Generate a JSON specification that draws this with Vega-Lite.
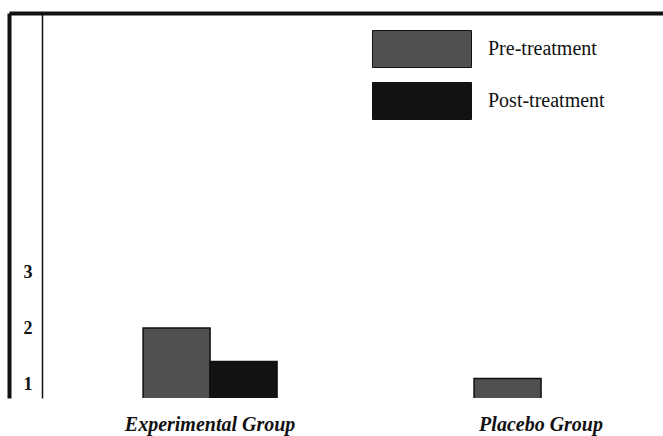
{
  "$schema": "https://vega.github.io/schema/vega-lite/v6.json",
  "width": 654,
  "height": 385,
  "autosize": {"type": "none"},
  "padding": {"left": 9, "top": 13, "right": 0, "bottom": 38},
  "background": "white",
  "config": {
    "view": {"stroke": null},
    "font": "Liberation Serif"
  },
  "data": {
    "values": [
      {"group": "Experimental Group", "phase": "Pre-treatment", "value": 2.0},
      {"group": "Experimental Group", "phase": "Post-treatment", "value": 1.4},
      {"group": "Placebo Group", "phase": "Pre-treatment", "value": 1.1}
    ]
  },
  "layer": [
    {
      "mark": {"type": "bar", "stroke": "#111", "strokeWidth": 1.5, "clip": true},
      "encoding": {
        "x": {
          "field": "group", "type": "nominal",
          "scale": {"paddingInner": 0.3, "paddingOuter": 0.138, "align": 0.933},
          "axis": {
            "orient": "bottom", "title": null, "domain": false, "ticks": false,
            "labelAngle": 0, "labelPadding": 16, "labelFontSize": 20,
            "labelFontWeight": "bold", "labelFontStyle": "italic",
            "labelColor": "#111", "labelFont": "Liberation Serif"
          }
        },
        "xOffset": {
          "field": "phase", "type": "nominal",
          "sort": ["Pre-treatment", "Post-treatment"],
          "scale": {"domain": ["Pre-treatment", "Post-treatment"], "paddingInner": 0, "paddingOuter": 0.729}
        },
        "y": {
          "field": "value", "type": "quantitative",
          "scale": {"domain": [0.75, 7.625], "zero": false, "nice": false},
          "axis": {
            "orient": "left", "title": null, "offset": -33, "grid": false,
            "values": [1, 2, 3], "ticks": false, "domainColor": "#111",
            "domainWidth": 1.5, "labelPadding": 10, "labelFontSize": 18,
            "labelFontWeight": "bold", "labelColor": "#111", "labelFont": "Liberation Serif"
          }
        },
        "color": {
          "field": "phase", "type": "nominal",
          "scale": {"domain": ["Pre-treatment", "Post-treatment"], "range": ["#505050", "#121212"]},
          "legend": {
            "title": null, "orient": "none", "legendX": 363, "legendY": 17,
            "symbolType": "M-1,-1H4.351V1H-1Z", "symbolSize": 1369,
            "symbolStrokeColor": "#111", "symbolStrokeWidth": 1,
            "labelFontSize": 20, "labelFont": "Liberation Serif", "labelColor": "#111",
            "labelOffset": 78, "rowPadding": 10
          }
        }
      }
    },
    {
      "mark": {"type": "bar", "opacity": 0},
      "encoding": {
        "x": {
          "field": "group", "type": "nominal",
          "axis": {"orient": "top", "title": null, "labels": false, "ticks": false, "domainWidth": 4, "domainColor": "#111"}
        },
        "xOffset": {"field": "phase", "type": "nominal"},
        "y": {
          "field": "value", "type": "quantitative",
          "axis": {"orient": "left", "title": null, "labels": false, "ticks": false, "grid": false, "domainWidth": 4, "domainColor": "#111"}
        }
      }
    }
  ],
  "resolve": {"axis": {"x": "independent", "y": "independent"}}
}
